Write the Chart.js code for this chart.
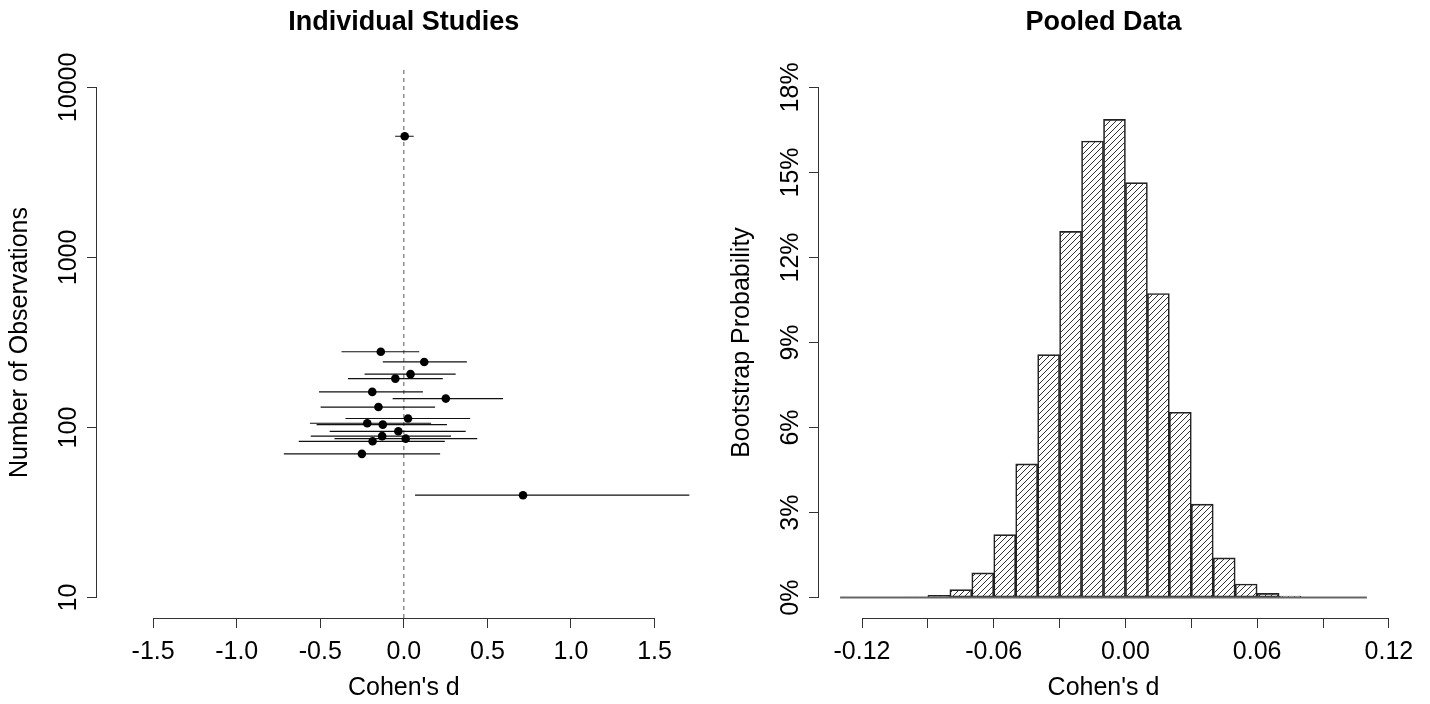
<!DOCTYPE html>
<html>
<head>
<meta charset="utf-8">
<script src="https://cdn.jsdelivr.net/npm/chart.js@4.4.1/dist/chart.umd.min.js"></script>
<style>
html, body { margin: 0; padding: 0; background: #fff; }
#wrap { position: relative; width: 1430px; height: 704px; }
.box { position: absolute; top: 0; width: 715px; height: 704px; }
</style>
</head>
<body>
<div id="wrap">
  <div class="box" style="left:0"><canvas id="studies" width="715" height="704"></canvas></div>
  <div class="box" style="left:715px"><canvas id="pooled" width="715" height="704"></canvas></div>
</div>
<script>
// individual studies: effect, CI low/high, sample size
const studyD  = [0.005, -0.138, 0.122, 0.040, -0.051, -0.189, 0.251, -0.152, 0.025, -0.219, -0.126, -0.033, -0.130, 0.011, -0.187, -0.251, 0.713];
const studyLo = [-0.052, -0.373, -0.126, -0.235, -0.334, -0.508, -0.067, -0.498, -0.349, -0.562, -0.522, -0.444, -0.557, -0.415, -0.629, -0.718, 0.067];
const studyHi = [0.059, 0.092, 0.377, 0.310, 0.233, 0.114, 0.593, 0.187, 0.397, 0.163, 0.258, 0.370, 0.282, 0.439, 0.245, 0.217, 1.708];
const studyN  = [5160, 279, 243, 206, 194, 162, 148, 132, 113, 106, 104, 95, 89, 86, 83, 70, 40];
const dTicks  = [-1.5, -1.0, -0.5, 0, 0.5, 1.0, 1.5];
const dLabels = ['-1.5', '-1.0', '-0.5', '0.0', '0.5', '1.0', '1.5'];
const nTicks  = [10, 100, 1000, 10000];
const nLabels = ['10', '100', '1000', '10000'];

// pooled bootstrap histogram (bin left edges, width 0.01, percent)
const binLeft = [-0.13, -0.12, -0.11, -0.10, -0.09, -0.08, -0.07, -0.06, -0.05, -0.04, -0.03, -0.02,
                 -0.01, 0.00, 0.01, 0.02, 0.03, 0.04, 0.05, 0.06, 0.07, 0.08, 0.09, 0.10];
const binProb = [0, 0, 0, 0.02, 0.08, 0.28, 0.87, 2.22, 4.72, 8.57, 12.92, 16.11,
                 16.87, 14.64, 10.73, 6.54, 3.30, 1.40, 0.48, 0.15, 0.05, 0, 0, 0];
const poolTicks  = [-0.12, -0.09, -0.06, -0.03, 0, 0.03, 0.06, 0.09, 0.12];
const poolLabels = ['-0.12', '', '-0.06', '', '0.00', '', '0.06', '', '0.12'];
const probTicks  = [0, 3, 6, 9, 12, 15, 18];
const probLabels = ['0%', '3%', '6%', '9%', '12%', '15%', '18%'];

const FONT = '"Liberation Sans", Arial, Helvetica, sans-serif';
Chart.defaults.font.family = FONT;
Chart.defaults.color = '#000';

// R style axes: line only between first and last tick, rotated y labels
const rAxes = {
  id: 'rAxes',
  afterDraw(chart, args, o) {
    const {ctx, chartArea: a, scales: {x, y}} = chart;
    ctx.save();
    ctx.strokeStyle = '#333';
    ctx.lineWidth = 1;
    ctx.beginPath();
    const xb = Math.round(a.bottom) + 0.5;
    ctx.moveTo(x.getPixelForValue(o.xTicks[0]), xb);
    ctx.lineTo(x.getPixelForValue(o.xTicks[o.xTicks.length - 1]), xb);
    const yl = Math.round(a.left) - 0.5;
    ctx.moveTo(yl, y.getPixelForValue(o.yTicks[0]));
    ctx.lineTo(yl, y.getPixelForValue(o.yTicks[o.yTicks.length - 1]));
    ctx.stroke();
    ctx.fillStyle = '#000';
    ctx.font = '25px ' + FONT;
    ctx.textAlign = 'center';
    ctx.textBaseline = 'middle';
    o.yTicks.forEach((v, i) => {
      ctx.save();
      ctx.translate(a.left - 28, y.getPixelForValue(v));
      ctx.rotate(-Math.PI / 2);
      ctx.fillText(o.yLabels[i], 0, 0);
      ctx.restore();
    });
    ctx.restore();
  }
};

function setTicks(vals) {
  return s => { s.ticks = vals.map(v => ({value: v})); };
}

function xScale(min, max, vals, labels) {
  return {
    type: 'linear', min: min, max: max, offset: false,
    afterBuildTicks: setTicks(vals),
    afterFit: s => { s.height = 86; },
    grid: {drawOnChartArea: false, drawTicks: true, tickLength: 10, color: '#333', offset: false},
    border: {display: false},
    ticks: {autoSkip: false, maxRotation: 0, padding: 9, font: {size: 25},
            callback: (v, i) => labels[i]},
    title: {display: true, text: "Cohen's d", font: {size: 25}, padding: {top: 0, bottom: 1}}
  };
}

function yScale(type, min, max, vals, width, title, pad) {
  return {
    type: type, min: min, max: max,
    afterBuildTicks: setTicks(vals),
    afterFit: s => { s.width = width; },
    grid: {drawOnChartArea: false, drawTicks: true, tickLength: 10, color: '#333'},
    border: {display: false},
    ticks: {display: false},
    title: {display: true, text: title, font: {size: 25}, padding: {top: pad, bottom: 0}}
  };
}

function titleOpt(text) {
  return {display: true, text: text, fullSize: false, font: {size: 27, weight: 'bold'},
          padding: {top: 6, bottom: 28.6}};
}

// left: individual studies
const ciData = [];
studyD.forEach((d, i) => {
  ciData.push({x: studyLo[i], y: studyN[i]}, {x: studyHi[i], y: studyN[i]}, {x: null, y: null});
});
const nMin = Math.pow(10, 0.88), nMax = Math.pow(10, 4.12);

new Chart(document.getElementById('studies'), {
  type: 'scatter',
  data: {
    datasets: [
      {data: studyD.map((d, i) => ({x: d, y: studyN[i]})), pointRadius: 4.3,
       backgroundColor: '#000', borderWidth: 0, order: 0},
      {data: ciData, showLine: true, spanGaps: false, borderColor: '#111', borderWidth: 1.2,
       pointRadius: 0, order: 1},
      {data: [{x: 0, y: nMin}, {x: 0, y: nMax}], showLine: true, borderColor: '#555',
       borderWidth: 1, borderDash: [4, 4], pointRadius: 0, order: 2}
    ]
  },
  options: {
    responsive: false, animation: false, events: [],
    layout: {padding: {left: 0, right: 1, top: 0, bottom: 0}},
    scales: {
      x: xScale(-1.836, 1.836, dTicks, dLabels),
      y: yScale('logarithmic', nMin, nMax, nTicks, 97, 'Number of Observations', 5)
    },
    plugins: {
      legend: {display: false}, tooltip: {enabled: false},
      title: titleOpt('Individual Studies'),
      rAxes: {xTicks: dTicks, yTicks: nTicks, yLabels: nLabels}
    }
  },
  plugins: [rAxes]
});

// right: pooled data histogram
const pooledCanvas = document.getElementById('pooled');
function hatch(ctx) {
  const s = 6, c = document.createElement('canvas');
  c.width = s; c.height = s;
  const g = c.getContext('2d');
  g.strokeStyle = '#333';
  g.lineWidth = 1;
  g.beginPath();
  g.moveTo(0, s); g.lineTo(s, 0);
  g.moveTo(-1, 1); g.lineTo(1, -1);
  g.moveTo(s - 1, s + 1); g.lineTo(s + 1, s - 1);
  g.stroke();
  return ctx.createPattern(c, 'repeat');
}
const binW = 0.01;

new Chart(pooledCanvas, {
  type: 'bar',
  data: {
    datasets: [
      {type: 'line', data: [{x: binLeft[0], y: 0}, {x: binLeft[binLeft.length - 1] + binW, y: 0}],
       borderColor: '#666', borderWidth: 2, pointRadius: 0, order: 0},
      {data: binLeft.map((l, i) => ({x: l + binW / 2, y: binProb[i]})),
       backgroundColor: hatch(pooledCanvas.getContext('2d')), borderColor: '#222', borderWidth: 1,
       borderSkipped: false, barPercentage: 1, categoryPercentage: 1, order: 1}
    ]
  },
  options: {
    responsive: false, animation: false, events: [],
    layout: {padding: {left: 0, right: 42, top: 0, bottom: 0}},
    scales: {
      x: xScale(-0.1396, 0.1196, poolTicks, poolLabels),
      y: yScale('linear', -0.72, 18.72, probTicks, 104, 'Bootstrap Probability', 12)
    },
    plugins: {
      legend: {display: false}, tooltip: {enabled: false},
      title: titleOpt('Pooled Data'),
      rAxes: {xTicks: poolTicks, yTicks: probTicks, yLabels: probLabels}
    }
  },
  plugins: [rAxes]
});
</script>
</body>
</html>
